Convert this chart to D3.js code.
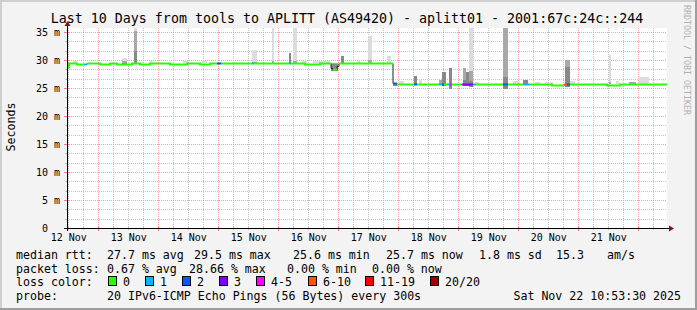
<!DOCTYPE html>
<html><head><meta charset="utf-8">
<script src="https://cdn.jsdelivr.net/npm/d3@7"></script>
<style>
html,body{margin:0;padding:0;background:#f3f3f3;}
svg{display:block;}
text{font-family:"DejaVu Sans Mono",monospace;white-space:pre;}
</style></head><body>
<svg id="c" width="697" height="310"></svg>
<script>
// ---------------- data ----------------
const titleText = "Last 10 Days from tools to APLITT (AS49420) - aplitt01 - 2001:67c:24c::244";
const startTime = Date.UTC(2025, 10, 12, 11, 30);   // left edge of plot
const endTime   = Date.UTC(2025, 10, 22, 11, 30);   // right edge of plot
const yTickValues = [0, 5, 10, 15, 20, 25, 30, 35];
const yTickLabels = ["0", "5 m", "10 m", "15 m", "20 m", "25 m", "30 m", "35 m"];
const xTickLabels = ["12 Nov", "13 Nov", "14 Nov", "15 Nov", "16 Nov", "17 Nov", "18 Nov", "19 Nov", "20 Nov", "21 Nov"];

// median rtt (step changes), hours from start, ms, loss class index (-1 = no colour)
const medianHours = [0, 0.6, 4, 6.8, 8, 13, 17, 20, 26, 29, 33, 41, 48, 53, 57, 60, 61.5, 62.2, 68, 74, 74.8, 80, 88.8, 89.6, 95, 101, 105.4, 106.2, 108, 108.8, 115, 122, 126, 130.4, 132, 138.8, 140, 146, 148.8, 150, 150.8, 152, 153.2, 154, 158, 162.4, 163.6, 168, 174.4, 176.4, 182.4, 185, 190, 194, 198.8, 199.8, 201, 211, 216, 221, 229, 236];
const medianMs = [28.7, 29.45, 29.35, 29.35, 29.5, 29.35, 29.45, 29.3, 29.45, 29.3, 29.4, 29.3, 29.4, 29.3, 29.45, 29.4, 29.4, 29.45, 29.4, 29.4, 29.45, 29.4, 29.4, 29.45, 29.35, 29.45, 28.6, 28.45, 29.0, 29.5, 29.4, 29.5, 29.45, 25.95, 25.7, 25.7, 25.75, 25.65, 25.7, 25.7, 25.7, 25.7, 25.7, 25.7, 25.65, 25.7, 25.75, 25.65, 25.7, 25.75, 25.7, 25.65, 25.8, 25.6, 25.7, 25.7, 25.8, 25.7, 25.6, 25.75, 25.65, 25.7];
const medianLoss = [0, 0, 0, 1, 0, 0, 0, 0, 0, 0, 0, 0, 0, 0, 0, 2, 1, 0, 0, 1, 0, 0, 1, 0, 0, 0, -1, 0, -1, 0, 0, 0, 0, 2, 0, 2, 0, 0, 1, 2, 0, 1, 4, 0, 3, 1, 0, 0, 2, 0, 1, 0, 0, 0, 5, 2, 0, 0, 0, 0, 0, 0];

// smoke (ping spread) events: hours from start and ms levels
const smokeStart = [2.4, 22, 26.8, 33.2, 46.4, 54, 74, 82, 88.8, 90.4, 94, 98.4, 105.6, 109.6, 116, 120.4, 128, 130.4, 132.6, 138.7, 140.7, 148.8, 150, 152.8, 158.2, 159.6, 160.8, 163.2, 174.4, 178.4, 182.4, 187.2, 191.2, 193.2, 199, 201.2, 216.8, 219.6, 224.8, 228.8];
const smokeEnd   = [4, 24, 28, 34.4, 48.4, 56, 76, 82.8, 89.6, 92, 96, 105.2, 108.4, 110.8, 117.2, 122, 129.6, 132, 134.6, 140, 142, 150, 151.4, 154.2, 159.6, 160.8, 162.2, 164.8, 176.4, 181.2, 184.4, 189.2, 192.4, 194.4, 201.2, 203.2, 217.6, 220.8, 227.6, 232.8];
const smokeLo    = [29.4, 29.3, 29.2, 29.4, 29.4, 29.4, 29.3, 29.4, 29.2, 29.3, 29.4, 29.4, 28.0, 29.3, 29.4, 29.3, 29.4, 25.3, 25.7, 25.5, 25.7, 25.5, 25.3, 24.9, 25.3, 25.3, 25.2, 25.7, 24.9, 25.7, 25.5, 25.7, 25.7, 25.7, 25.2, 25.7, 25.7, 25.7, 25.7, 25.7];
const smokeDark  = [29.4, 29.4, 31.6, 29.4, 29.4, 29.4, 29.4, 29.4, 31.2, 29.4, 29.4, 29.4, 29.3, 30.8, 29.4, 29.5, 29.4, 25.8, 25.7, 27.1, 25.7, 25.8, 27.9, 28.5, 26.5, 27.9, 26.3, 25.7, 27.0, 25.7, 26.4, 25.7, 25.7, 25.7, 28.8, 25.7, 25.7, 25.7, 25.7, 25.7];
const smokeMid   = [29.4, 29.9, 35.2, 29.4, 29.4, 29.4, 29.6, 29.8, 31.2, 29.9, 29.4, 29.4, 29.5, 30.8, 29.4, 30.0, 29.4, 25.8, 25.7, 27.1, 25.7, 26.4, 27.9, 28.5, 28.5, 27.9, 28.0, 25.7, 35.7, 25.7, 26.4, 25.7, 25.7, 25.7, 30.0, 25.7, 26.0, 25.7, 26.1, 25.7];
const smokeHi    = [29.9, 30.4, 35.7, 29.9, 29.8, 29.8, 31.7, 35.7, 31.2, 35.7, 29.9, 29.8, 29.5, 30.8, 29.8, 34.2, 30.8, 25.8, 26.25, 27.1, 26.4, 26.4, 27.9, 28.5, 28.5, 27.9, 35.7, 26.0, 35.7, 26.2, 26.4, 26.1, 26.1, 26.1, 30.0, 26.2, 30.9, 26.2, 26.1, 27.0];

const lossLabels = ["0", "1", "2", "3", "4-5", "6-10", "11-19", "20/20"];
const lossColors = ["#26ff00", "#00b8ff", "#0059ff", "#7e00ff", "#ff00ff", "#ff5500", "#ff0000", "#a10000"];
const rttStats  = ["27.7 ms avg", "29.5 ms max", "25.6 ms min", "25.7 ms now", "1.8 ms sd", "15.3", "am/s"];
const lossStats = ["0.67 % avg", "28.66 % max", "0.00 % min", "0.00 % now"];
const probeText = "20 IPv6-ICMP Echo Pings (56 Bytes) every 300s";
const dateText = "Sat Nov 22 10:53:30 2025";

// ---------------- drawing ----------------
const W = 697, H = 310;
const L = 67, R = 667, TOP = 28, BOT = 228;
const svg = d3.select("#c");
svg.append("rect").attr("width", W).attr("height", H).attr("fill", "#f3f3f3");
svg.append("rect").attr("x", 0).attr("y", 0).attr("width", W).attr("height", 2).attr("fill", "#cfcfcf");
svg.append("rect").attr("x", 0).attr("y", 0).attr("width", 2).attr("height", H).attr("fill", "#cfcfcf");
svg.append("rect").attr("x", W - 2).attr("y", 0).attr("width", 2).attr("height", H).attr("fill", "#9e9e9e");
svg.append("rect").attr("x", 0).attr("y", H - 2).attr("width", W).attr("height", 2).attr("fill", "#9e9e9e");

const x = d3.scaleUtc().domain([new Date(startTime), new Date(endTime)]).range([L, R]);
const y = d3.scaleLinear().domain([0, 200 / 5.6]).range([BOT, TOP]);
const T = h => new Date(startTime + h * 3600000);
const px = v => Math.round(v) + 0.5;

svg.append("rect").attr("x", L).attr("y", TOP).attr("width", R - L).attr("height", BOT - TOP).attr("fill", "#ffffff");

// grid
const grid = svg.append("g");
const minorX = d3.utcHour.every(6).range(x.domain()[0], x.domain()[1]).filter(d => d.getUTCHours() !== 0);
const majorX = d3.utcDay.range(x.domain()[0], x.domain()[1]);
const minorY = d3.range(1, 22).filter(k => k % 3 !== 0).map(k => k * 5 / 3);
const majorY = yTickValues.filter(v => v > 0);
grid.selectAll(".mx").data(minorX).join("line")
  .attr("x1", d => px(x(d))).attr("x2", d => px(x(d))).attr("y1", TOP).attr("y2", BOT)
  .attr("stroke", "#c4c4c4").attr("stroke-dasharray", "1,1");
grid.selectAll(".my").data(minorY).join("line")
  .attr("x1", L).attr("x2", R).attr("y1", d => px(y(d))).attr("y2", d => px(y(d)))
  .attr("stroke", "#c4c4c4").attr("stroke-dasharray", "1,1");
grid.selectAll(".Mx").data(majorX).join("line")
  .attr("x1", d => px(x(d))).attr("x2", d => px(x(d))).attr("y1", TOP).attr("y2", BOT)
  .attr("stroke", "#f2a0a0").attr("stroke-dasharray", "1,1");
grid.selectAll(".My").data(majorY).join("line")
  .attr("x1", L).attr("x2", R).attr("y1", d => px(y(d))).attr("y2", d => px(y(d)))
  .attr("stroke", "#f2a0a0").attr("stroke-dasharray", "1,1");

// clip
svg.append("clipPath").attr("id", "pc").append("rect")
  .attr("x", L).attr("y", TOP).attr("width", R - L).attr("height", BOT - TOP);
const plot = svg.append("g").attr("clip-path", "url(#pc)");

// smoke
const smoke = smokeStart.map((s, i) => ({
  x0: Math.round(x(T(s))), x1: Math.round(x(T(smokeEnd[i]))),
  lo: smokeLo[i], dark: smokeDark[i], mid: smokeMid[i], hi: smokeHi[i]
}));
function band(cls, color, a, b) {
  plot.selectAll("." + cls).data(smoke.filter(d => d[b] > d[a])).join("rect").attr("class", cls)
    .attr("x", d => d.x0).attr("width", d => Math.max(1, d.x1 - d.x0))
    .attr("y", d => Math.round(y(d[b]))).attr("height", d => Math.max(1, Math.round(y(d[a])) - Math.round(y(d[b]))))
    .attr("fill", color);
}
band("sl", "#dcdcdc", "mid", "hi");
band("sm", "#a8a8a8", "dark", "mid");
band("sd", "#888888", "lo", "dark");

// median
const pts = medianHours.map((h, i) => ({ t: T(h), v: medianMs[i], l: medianLoss[i] }));
const all = pts.concat([{ t: T(240), v: medianMs[medianMs.length - 1], l: medianLoss[medianLoss.length - 1] }]);
const blackLine = d3.line().x(d => Math.round(x(d.t))).y(d => px(y(d.v))).curve(d3.curveStepAfter);
plot.append("path").attr("d", blackLine(all)).attr("fill", "none").attr("stroke", "#202020").attr("stroke-width", 1);
const colLine = d3.line().x(d => Math.round(x(d.t))).y(d => Math.round(y(d.v)) + 0.5).curve(d3.curveStepAfter);
let i = 0;
while (i < pts.length) {
  let j = i;
  while (j + 1 < pts.length && pts[j + 1].l === pts[i].l) j++;
  if (pts[i].l >= 0) {
    const run = pts.slice(i, j + 1).concat([{ t: all[j + 1].t, v: pts[j].v }]);
    plot.append("path").attr("d", colLine(run)).attr("fill", "none")
      .attr("stroke", lossColors[pts[i].l]).attr("stroke-width", 2);
  }
  i = j + 1;
}

// axes ticks
svg.selectAll(".tM").data(majorX).join("line")
  .attr("x1", d => px(x(d))).attr("x2", d => px(x(d))).attr("y1", BOT - 2).attr("y2", BOT + 3).attr("stroke", "#e88080");
svg.selectAll(".tm").data(minorX).join("line")
  .attr("x1", d => px(x(d))).attr("x2", d => px(x(d))).attr("y1", BOT - 1).attr("y2", BOT + 2).attr("stroke", "#bbbbbb");
svg.selectAll(".ty").data(majorY).join("line")
  .attr("x1", L - 3).attr("x2", L + 2).attr("y1", d => px(y(d))).attr("y2", d => px(y(d))).attr("stroke", "#e88080");
svg.selectAll(".tym").data(minorY).join("line")
  .attr("x1", L - 2).attr("x2", L + 1).attr("y1", d => px(y(d))).attr("y2", d => px(y(d))).attr("stroke", "#bbbbbb");

// axis lines and arrows
svg.append("line").attr("x1", L - 3).attr("x2", R + 3).attr("y1", BOT + 0.5).attr("y2", BOT + 0.5).attr("stroke", "#000");
svg.append("line").attr("x1", L + 0.5).attr("x2", L + 0.5).attr("y1", BOT + 3).attr("y2", TOP - 3).attr("stroke", "#000");
svg.append("path").attr("d", `M${R + 2},${BOT - 2.5}L${R + 7},${BOT + 0.5}L${R + 2},${BOT + 3.5}Z`).attr("fill", "#8b1010");
svg.append("path").attr("d", `M${L - 2.5},${TOP - 2}L${L + 0.5},${TOP - 7}L${L + 3.5},${TOP - 2}Z`).attr("fill", "#8b1010");

// axis labels via d3 axes
const xAxis = d3.axisBottom(x)
  .tickValues(xTickLabels.map((_, k) => new Date(Date.UTC(2025, 10, 12 + k, 12))))
  .tickFormat((d, k) => xTickLabels[k]).tickSize(0);
const gx = svg.append("g").attr("transform", `translate(0,${BOT})`).call(xAxis);
gx.select(".domain").remove();
gx.selectAll("text").attr("y", 13).attr("dy", 0).attr("font-size", 10)
  .attr("font-family", "DejaVu Sans Mono").attr("fill", "#000");

const yAxis = d3.axisLeft(y).tickValues(yTickValues).tickFormat((d, k) => yTickLabels[k]).tickSize(0);
const gy = svg.append("g").attr("transform", `translate(${L},0)`).call(yAxis);
gy.select(".domain").remove();
// rrdtool pads the unitless "0" label, so it lines up with the digit column of "5 m"
gy.selectAll("text").attr("x", d => d === 0 ? -19 : -7).attr("dy", "0.35em").attr("font-size", 10)
  .attr("font-family", "DejaVu Sans Mono").attr("fill", "#000");

// title and side texts
svg.append("text").attr("x", 347).attr("y", 22.5).attr("text-anchor", "middle")
  .attr("font-size", 13.3).attr("fill", "#000").text(titleText);
svg.append("text").attr("transform", "translate(15,127) rotate(-90)").attr("text-anchor", "middle")
  .attr("font-size", 11.6).attr("fill", "#000").text("Seconds");
svg.append("text").attr("transform", "translate(684,5) rotate(90)").attr("text-anchor", "start")
  .attr("font-size", 8.3).attr("fill", "#b0b0b0").text("RRDTOOL / TOBI OETIKER");

// legend
const lg = svg.append("g").attr("font-size", 11.6).attr("fill", "#000");
const rowY = [259, 272.5, 286, 300];
lg.append("text").attr("x", 16).attr("y", rowY[0]).text("median rtt:");
const rttX = [107, 194, 293, 386, 479, 556, 607];
rttStats.forEach((s, k) => lg.append("text").attr("x", rttX[k]).attr("y", rowY[0]).text(s));
lg.append("text").attr("x", 16).attr("y", rowY[1]).text("packet loss:");
const lossX = [107, 189, 287, 372];
lossStats.forEach((s, k) => lg.append("text").attr("x", lossX[k]).attr("y", rowY[1]).text(s));
lg.append("text").attr("x", 16).attr("y", rowY[2]).text("loss color:");
const boxX = [108, 145, 182, 219, 256, 308, 365, 430];
lossLabels.forEach((s, k) => {
  lg.append("rect").attr("x", boxX[k] + 0.5).attr("y", rowY[2] - 9.5).attr("width", 8).attr("height", 9)
    .attr("fill", lossColors[k]).attr("stroke", "#000").attr("stroke-width", 1);
  lg.append("text").attr("x", boxX[k] + 15).attr("y", rowY[2]).text(s);
});
lg.append("text").attr("x", 16).attr("y", rowY[3]).text("probe:");
lg.append("text").attr("x", 107).attr("y", rowY[3]).text(probeText);
lg.append("text").attr("x", 681).attr("y", rowY[3]).attr("text-anchor", "end").text(dateText);
</script>
</body></html>
